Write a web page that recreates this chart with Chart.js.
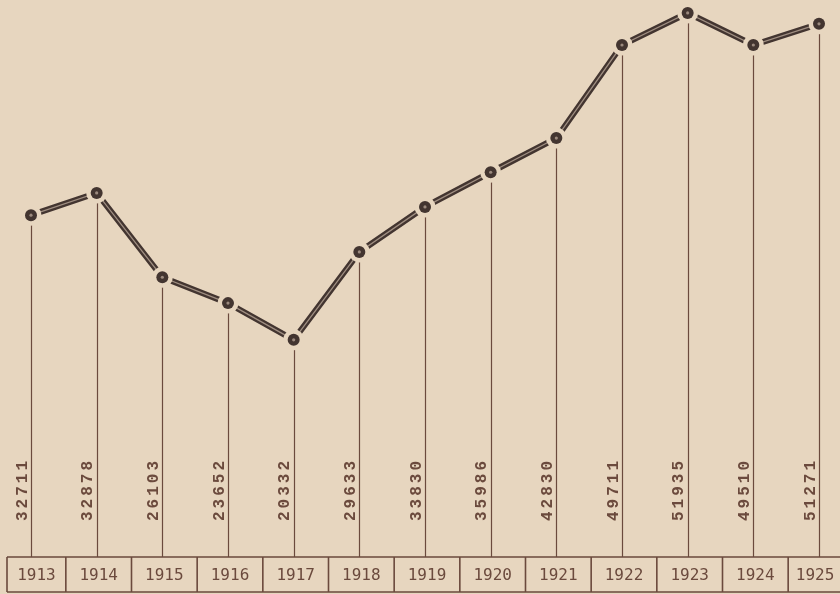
<!DOCTYPE html>
<html>
<head>
<meta charset="utf-8">
<script src="https://cdn.jsdelivr.net/npm/chart.js@4.4.0/dist/chart.umd.min.js"></script>
<style>
  html, body { margin: 0; padding: 0; background: #e7d6bf; }
  canvas { display: block; }
</style>
</head>
<body>
<canvas id="chart" width="840" height="594"></canvas>
<script>
// years along the bottom row
const years = ['1913', '1914', '1915', '1916', '1917', '1918', '1919', '1920', '1921', '1922', '1923', '1924', '1925'];
// figures written beside each drop line
const values = [32711, 32878, 26103, 23652, 20332, 29633, 33830, 35986, 42830, 49711, 51935, 49510, 51271];
// heights of the dots as drawn on the sheet (hand plotted, same units)
const drawnHeights = [32300, 34450, 26300, 23800, 20250, 28750, 33100, 36450, 39750, 48750, 51850, 48750, 50800];

const paper = '#e7d6bf';
const ink = '#6b4a3d';
const dotInk = '#433530';

// drop lines, value labels and the year row
const sheetPlugin = {
  id: 'sheet',
  beforeDatasetsDraw(chart) {
    const { ctx, scales: { x, y }, chartArea } = chart;
    ctx.save();
    ctx.strokeStyle = ink;
    ctx.lineWidth = 1.2;
    drawnHeights.forEach((h, i) => {
      const px = Math.round(x.getPixelForValue(i)) + 0.5;
      ctx.beginPath();
      ctx.moveTo(px, y.getPixelForValue(h));
      ctx.lineTo(px, chartArea.bottom);
      ctx.stroke();
    });
    ctx.restore();
  },
  afterDraw(chart) {
    const { ctx, scales: { x }, chartArea } = chart;
    const top = chartArea.bottom;
    const bottom = top + 35;
    ctx.save();

    // rotated figures
    ctx.fillStyle = ink;
    ctx.font = 'bold 16px "Liberation Mono", monospace';
    ctx.letterSpacing = '3px';
    ctx.textAlign = 'left';
    ctx.textBaseline = 'middle';
    values.forEach((v, i) => {
      const px = x.getPixelForValue(i);
      ctx.save();
      ctx.translate(px - 8.5, 521);
      ctx.rotate(-Math.PI / 2);
      ctx.fillText(String(v), 0, 0);
      ctx.restore();
    });
    ctx.letterSpacing = '0px';

    // year row
    const edges = [x.getPixelForValue(0) - 24];
    for (let i = 0; i < years.length - 1; i++) {
      edges.push((x.getPixelForValue(i) + x.getPixelForValue(i + 1)) / 2 + 2);
    }
    edges.push(chart.width + 2);
    ctx.strokeStyle = ink;
    ctx.lineWidth = 1.6;
    ctx.beginPath();
    ctx.moveTo(edges[0], top);
    ctx.lineTo(chart.width, top);
    ctx.moveTo(edges[0], bottom);
    ctx.lineTo(chart.width, bottom);
    edges.forEach((e) => {
      ctx.moveTo(e, top);
      ctx.lineTo(e, bottom);
    });
    ctx.stroke();

    ctx.font = '16px "DejaVu Sans Mono", monospace';
    ctx.textAlign = 'center';
    ctx.textBaseline = 'middle';
    years.forEach((yr, i) => {
      const cx = Math.min((edges[i] + edges[i + 1]) / 2, chart.width - 19);
      ctx.fillText(yr, cx, (top + bottom) / 2 + 1);
    });
    ctx.restore();
  },
};

new Chart(document.getElementById('chart'), {
  type: 'line',
  data: {
    labels: years,
    datasets: [
      // light centre dot
      { data: drawnHeights, showLine: false, pointRadius: 1.6, pointBackgroundColor: '#9c8a7e', pointBorderWidth: 0, order: 0 },
      // dark dot
      { data: drawnHeights, showLine: false, pointRadius: 6, pointBackgroundColor: dotInk, pointBorderWidth: 0, order: 1 },
      // paper halo so the line stops short of each dot
      { data: drawnHeights, showLine: false, pointRadius: 10.5, pointBackgroundColor: paper, pointBorderWidth: 0, order: 2 },
      // inner light stroke gives the double line look
      { data: drawnHeights, borderColor: '#a08f82', borderWidth: 1.3, pointRadius: 0, order: 3 },
      // thick outer stroke
      { data: drawnHeights, borderColor: dotInk, borderWidth: 6, pointRadius: 0, order: 4 },
    ],
  },
  options: {
    responsive: false,
    animation: false,
    events: [],
    clip: false,
    layout: { autoPadding: false, padding: { left: 31, right: 21, top: 0, bottom: 37 } },
    plugins: { legend: { display: false }, tooltip: { enabled: false } },
    scales: {
      x: { display: false, offset: false },
      y: { display: false, min: -740, max: 53100 },
    },
  },
  plugins: [sheetPlugin],
});
</script>
</body>
</html>
